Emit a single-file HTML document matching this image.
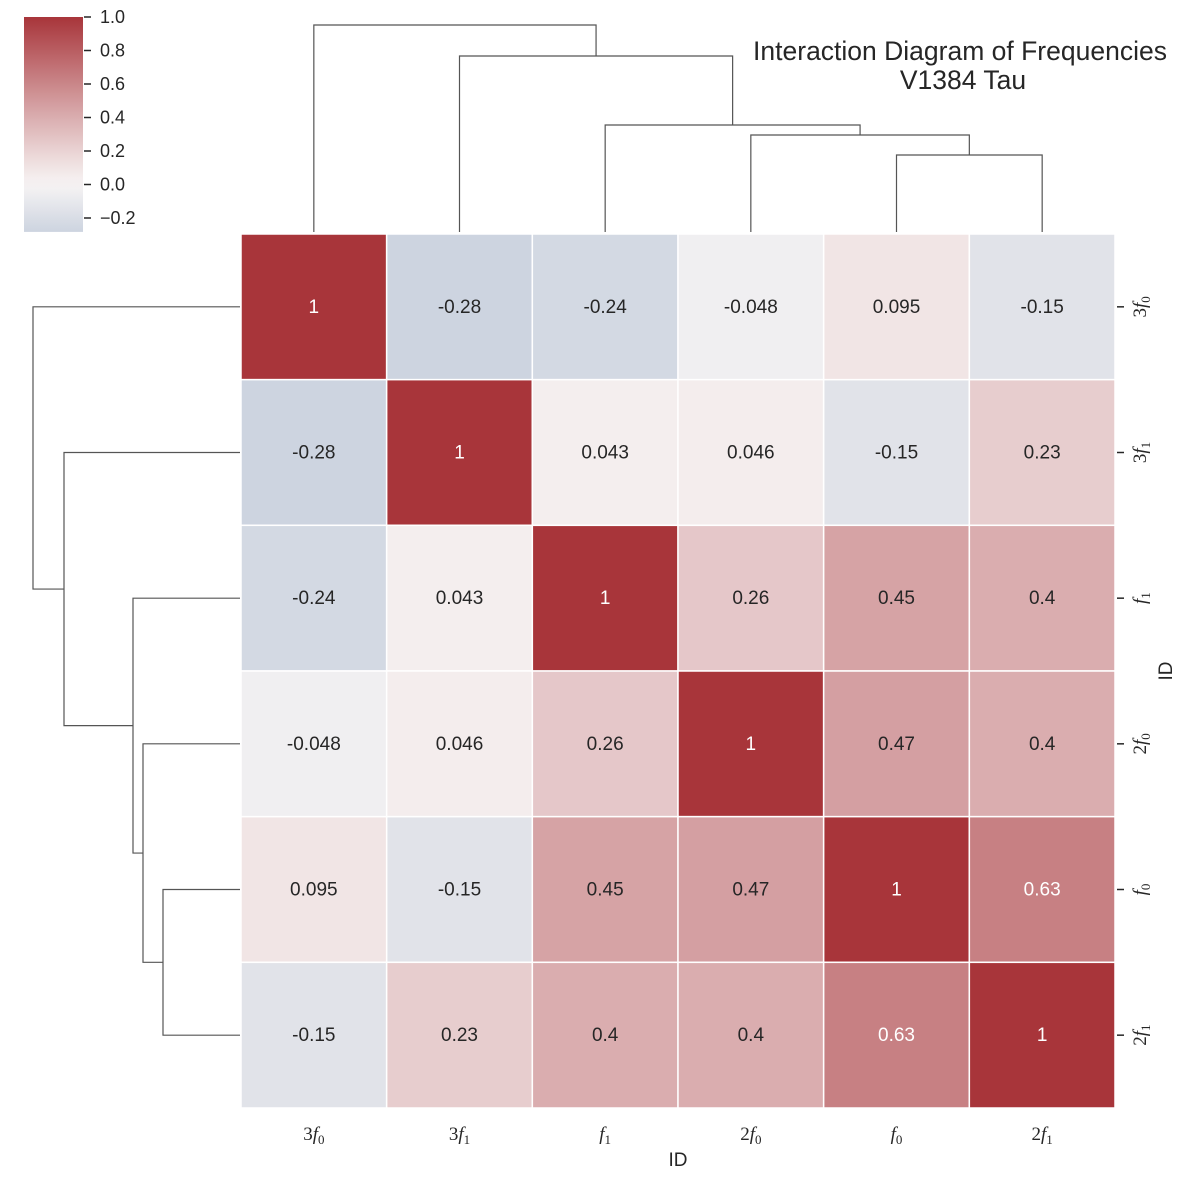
<!DOCTYPE html>
<html><head><meta charset="utf-8"><style>
html,body{margin:0;padding:0;background:#fff;}
svg{display:block;font-family:"Liberation Sans",sans-serif;}
.mt{font-family:"Liberation Serif","DejaVu Serif",serif;font-style:italic;}
</style></head><body>
<svg id="c" width="1200" height="1177"></svg>
<script>
const labels = ["3f0","3f1","f1","2f0","f0","2f1"];
const labelBase = ["3","3","","2","","2"];
const labelSub = ["0","1","1","0","0","1"];
const values = [
 [1,-0.28,-0.24,-0.048,0.095,-0.15],
 [-0.28,1,0.043,0.046,-0.15,0.23],
 [-0.24,0.043,1,0.26,0.45,0.4],
 [-0.048,0.046,0.26,1,0.47,0.4],
 [0.095,-0.15,0.45,0.47,1,0.63],
 [-0.15,0.23,0.4,0.4,0.63,1]
];
const printed = [
 ["1","-0.28","-0.24","-0.048","0.095","-0.15"],
 ["-0.28","1","0.043","0.046","-0.15","0.23"],
 ["-0.24","0.043","1","0.26","0.45","0.4"],
 ["-0.048","0.046","0.26","1","0.47","0.4"],
 ["0.095","-0.15","0.45","0.47","1","0.63"],
 ["-0.15","0.23","0.4","0.4","0.63","1"]
];
// linkage: [a, b, height]; leaves 0..5, new clusters 6..
const linkage = [[4,5,0.77],[3,6,0.97],[2,7,1.07],[1,8,1.76],[0,9,2.07]];
const cbTicks = [1.0,0.8,0.6,0.4,0.2,0.0,-0.2];
const cbTickText = ["1.0","0.8","0.6","0.4","0.2","0.0","\u22120.2"];

const NS="http://www.w3.org/2000/svg";
const svg=document.getElementById('c');
function mk(t,a,p){const e=document.createElementNS(NS,t);for(const k in a)e.setAttribute(k,a[k]);(p||svg).appendChild(e);return e;}
const X0=241,Y0=234,CW=874/6,CH=874/6;
function colorOf(v){
 const w=[247,244,244],r=[168,53,58],b=[97,130,173];
 const t=Math.min(1,Math.abs(v)),e=v>=0?r:b;
 const tt=v>=0?Math.pow(t,1.08):t;
 return `rgb(${w.map((c,i)=>Math.round(c+(e[i]-c)*tt)).join(',')})`;
}
const gH=mk('g',{});
values.forEach((row,i)=>row.forEach((v,j)=>{
 const rc=mk('rect',{x:X0+j*CW,y:Y0+i*CH,width:CW,height:CH,fill:colorOf(v),stroke:'#fff','stroke-width':1.5},gH);
 
 
 const tx=mk('text',{x:X0+(j+.5)*CW,y:Y0+(i+.5)*CH+6,'text-anchor':'middle','font-size':19,fill:v>0.55?'#fff':'#262626'},gH);
 tx.textContent=printed[i][j];
 
 
}));
function mathLabel(x,y,i,rot){
 const g=mk('g',{transform:`translate(${x},${y})`+(rot?' rotate(-90)':'')});
 
 
 const t=mk('text',{'text-anchor':'middle','font-size':19,fill:'#262626',class:'mt'},g);
 const a=mk('tspan',{'font-style':'normal'},t);a.textContent=labelBase[i];
 const f=mk('tspan',{},t);f.textContent='f';
 const s=mk('tspan',{'font-size':13,'font-style':'normal',dy:4},t);s.textContent=labelSub[i];
}
for(let i=0;i<6;i++){
 mathLabel(X0+(i+.5)*CW,1140,i,false);
 const cy=Y0+(i+.5)*CH;
 mk('line',{x1:1117,x2:1124,y1:cy,y2:cy,stroke:'#262626','stroke-width':1.5});
 mathLabel(1146,cy,i,true);
}
const idx=mk('text',{x:678,y:1166,'text-anchor':'middle','font-size':19,fill:'#262626'});idx.textContent='ID';

const idy=mk('text',{x:0,y:0,transform:'translate(1172,671) rotate(-90)','text-anchor':'middle','font-size':19,fill:'#262626'});idy.textContent='ID';

const hScale=207/2.07;
function dendro(orient){
 const g=mk('g',{fill:'none',stroke:'#555','stroke-width':1.2});
 
 
 const pos={},ht={};
 for(let i=0;i<6;i++){pos[i]=(orient==='top'?X0:Y0)+(i+.5)*CW;ht[i]=0;}
 linkage.forEach((m,k)=>{
  const [a,b,h]=m,id=6+k;
  const P=(p,hh)=>orient==='top'?[p,232-hh*hScale]:[p,240-hh*hScale];
  const pa=P(pos[a],ht[a]),pb=P(pos[b],ht[b]),ph=P(0,h)[1];
  let d;
  if(orient==='top') d=`M${pa[0]},${pa[1]}V${ph}H${pb[0]}V${pb[1]}`;
  else d=`M${pa[1]},${pa[0]}H${ph}V${pb[0]}H${pb[1]}`;
  mk('path',{d},g);
  pos[id]=(pos[a]+pos[b])/2;ht[id]=h;
 });
}
dendro('top');dendro('left');
const defs=mk('defs',{});
const lg=mk('linearGradient',{id:'cbg',x1:0,y1:1,x2:0,y2:0},defs);
const vmin=-0.283,vmax=1;
for(let s=0;s<=20;s++){const v=vmin+(vmax-vmin)*s/20;mk('stop',{offset:s/20,'stop-color':colorOf(v)},lg);}
const cy=v=>17+(1-v)/0.2*33.5;
const cb=mk('rect',{x:24,y:cy(vmax),width:59,height:cy(vmin)-cy(vmax),fill:'url(#cbg)'});

cbTicks.forEach((v,i)=>{
 mk('line',{x1:84,x2:91,y1:cy(v),y2:cy(v),stroke:'#262626','stroke-width':1.5});
 const t=mk('text',{x:100,y:cy(v)+6,'font-size':18,fill:'#262626'});t.textContent=cbTickText[i];
 
});
const t1=mk('text',{x:960,y:60,'text-anchor':'middle','font-size':26.5,fill:'#262626'});t1.textContent='Interaction Diagram of Frequencies';

const t2=mk('text',{x:963,y:89,'text-anchor':'middle','font-size':26.5,fill:'#262626'});t2.textContent='V1384 Tau';

</script>
</body></html>
